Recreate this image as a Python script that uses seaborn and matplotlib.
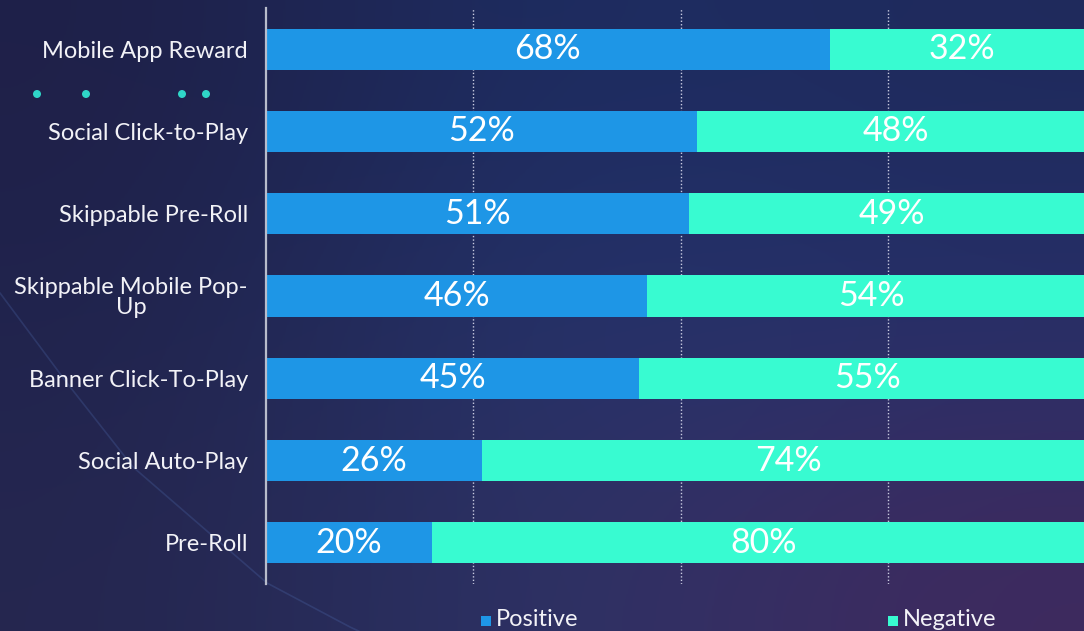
import numpy as np
import pandas as pd
import matplotlib
matplotlib.use("Agg")
import matplotlib.pyplot as plt
from matplotlib.colors import to_rgb
from matplotlib.patches import Rectangle, Ellipse
import seaborn as sns

# Ad format sentiment split (percent of respondents)
categories = [
    "Mobile App Reward",
    "Social Click-to-Play",
    "Skippable Pre-Roll",
    "Skippable Mobile Pop-\nUp",
    "Banner Click-To-Play",
    "Social Auto-Play",
    "Pre-Roll",
]
positive = [68, 52, 51, 46, 45, 26, 20]
negative = [32, 48, 49, 54, 55, 74, 80]
series_names = ["Positive", "Negative"]

BLUE = "#1e96e6"
TEAL = "#38fbd1"
DOT = "#2fd6c8"
TEXT = "#f2f2f7"

sns.set_style("white")
plt.rcParams["font.family"] = ["Lato", "DejaVu Sans"]

W, H, DPI = 1084, 631, 100
fig = plt.figure(figsize=(W / DPI, H / DPI), dpi=DPI)

# Background gradient panel
bg = fig.add_axes([0, 0, 1, 1], zorder=-10)
grid_cols = [
    ["#1f2048", "#1d2e64", "#1f2a5c"],
    ["#20234c", "#26356e", "#26306a"],
    ["#25264f", "#2c3468", "#3f2a5e"],
]
g = np.array([[to_rgb(c) for c in row] for row in grid_cols])
bg.imshow(g, extent=[0, 1, 0, 1], aspect="auto", interpolation="bicubic",
          origin="upper")
# faint decorative streak
sx = np.array([0, 67, 133, 267, 350, 420]) / W
sy = 1 - np.array([293, 383, 467, 583, 627, 660]) / H
bg.plot(sx, sy, color="#5a7ec8", alpha=0.22, lw=1.2)
bg.set_xlim(0, 1)
bg.set_ylim(0, 1)
bg.axis("off")

# Main chart axes
x0, x1 = 266, 1084
y_top, y_bot = 8, 584
ax = fig.add_axes([x0 / W, 1 - y_bot / H, (x1 - x0) / W, (y_bot - y_top) / H])
ax.patch.set_alpha(0)

df = pd.DataFrame({
    "category": categories,
    "positive": positive,
    "negative": negative,
})
df["total"] = df["positive"] + df["negative"]

sns.barplot(data=df, x="total", y="category", color=TEAL, width=0.5,
            saturation=1, linewidth=0, ax=ax, zorder=3)
sns.barplot(data=df, x="positive", y="category", color=BLUE, width=0.5,
            saturation=1, linewidth=0, ax=ax, zorder=4)

# 100% sits just past the right edge of the canvas
ax.set_xlim(0, 100 * (x1 - x0) / 829)
ax.set_ylim(len(categories) - 0.5, -0.5)

# Value labels centred in each segment
for i, (p, n) in enumerate(zip(positive, negative)):
    ax.text(p / 2, i, f"{p}%", ha="center", va="center", color="white",
            fontsize=24.5, zorder=6)
    ax.text(p + n / 2, i, f"{n}%", ha="center", va="center", color="white",
            fontsize=24.5, zorder=6, clip_on=False)

# Dotted reference lines
for gx in (25, 50, 75):
    ax.axvline(gx, color="#c9cbe0", lw=1, ls=(0, (1, 1.5)), zorder=1)

for s in ("top", "right", "bottom"):
    ax.spines[s].set_visible(False)
ax.spines["left"].set_color("#b8bccb")
ax.spines["left"].set_linewidth(1.6)
ax.spines["left"].set_zorder(7)

ax.set_xlabel("")
ax.set_ylabel("")
ax.set_xticks([])
ax.tick_params(axis="y", length=0, pad=13, labelsize=17, labelcolor=TEXT)
for lab in ax.get_yticklabels():
    lab.set_multialignment("center")
    lab.set_linespacing(0.95)

# Legend row along the bottom edge
for (px, name, col) in [(481, series_names[0], BLUE), (888, series_names[1], TEAL)]:
    fig.add_artist(Rectangle((px / W, 1 - 626 / H), 10 / W, 10 / H,
                             transform=fig.transFigure, color=col, lw=0))
    fig.text((px + 15) / W, 1 - 625.5 / H, name, color=TEXT, fontsize=17,
             ha="left", va="baseline")

# Decorative dots
for dx in (37, 86, 182, 206):
    fig.add_artist(Ellipse((dx / W, 1 - 94 / H), 8 / W, 8 / H,
                           transform=fig.transFigure, color=DOT, lw=0))

fig.savefig("out.png", dpi=DPI)
